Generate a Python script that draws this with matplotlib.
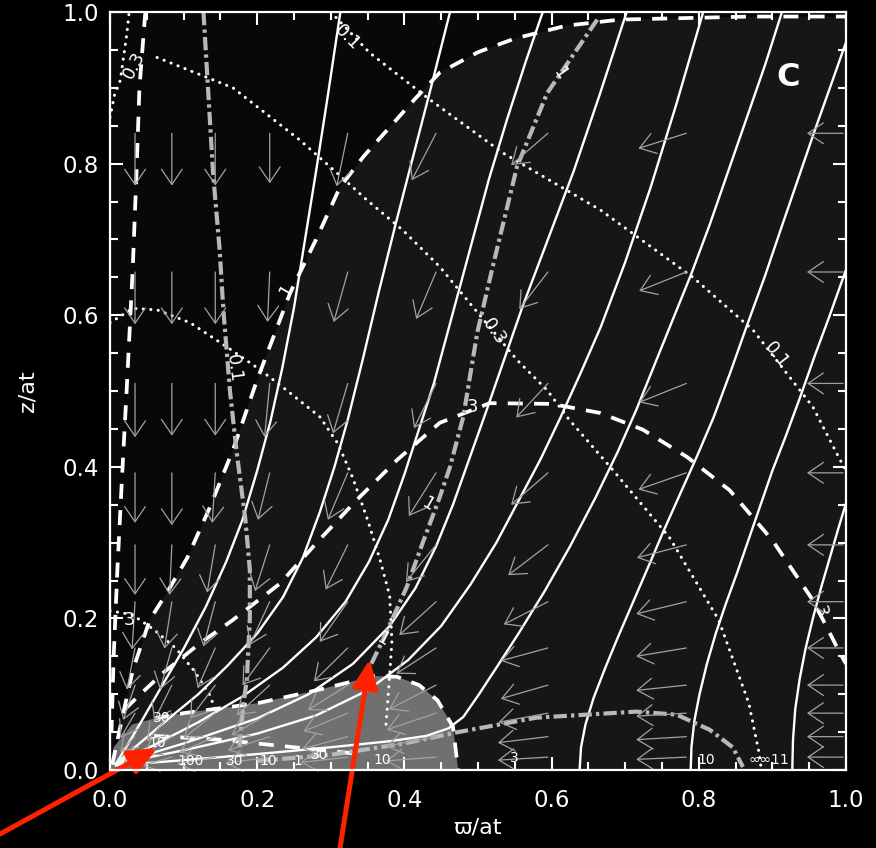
import matplotlib
matplotlib.use('Agg')
import matplotlib.pyplot as plt
from matplotlib.ticker import MultipleLocator, FormatStrFormatter

# Solid field lines, (x, y) pairs
L1 = [(0.927, 0.0), (0.928, 0.04), (0.931, 0.08), (0.937, 0.12), (0.945, 0.16), (0.955, 0.2), (0.966, 0.24),
      (0.978, 0.28), (0.99, 0.32), (1.0, 0.352)]
L2 = [(0.789, 0.0), (0.79, 0.03), (0.794, 0.065), (0.801, 0.1), (0.811, 0.14), (0.823, 0.18), (0.837, 0.22),
      (0.852, 0.26), (0.868, 0.305), (0.884, 0.35), (0.9, 0.395), (0.918, 0.44), (0.937, 0.49), (0.957, 0.545),
      (0.978, 0.6), (1.0, 0.66)]
L3 = [(0.638, 0.0), (0.64, 0.03), (0.646, 0.06), (0.657, 0.095), (0.673, 0.135), (0.69, 0.175), (0.71, 0.22),
      (0.73, 0.265), (0.752, 0.315), (0.775, 0.365), (0.798, 0.415), (0.82, 0.465), (0.843, 0.525), (0.866, 0.588),
      (0.89, 0.652), (0.912, 0.715), (0.935, 0.78), (0.958, 0.845), (0.98, 0.905), (1.0, 0.96)]
L4 = [(0.008, 0.006), (0.1, 0.013), (0.2, 0.021), (0.3, 0.03), (0.38, 0.038), (0.43, 0.045), (0.46, 0.055),
      (0.48, 0.07), (0.5, 0.098), (0.525, 0.135), (0.555, 0.18), (0.59, 0.235), (0.625, 0.295), (0.66, 0.36),
      (0.69, 0.42), (0.715, 0.475), (0.74, 0.535), (0.765, 0.595), (0.79, 0.655), (0.815, 0.72), (0.84, 0.79),
      (0.865, 0.86), (0.89, 0.93), (0.913, 1.0)]
L5 = [(0.008, 0.008), (0.1, 0.026), (0.2, 0.048), (0.28, 0.072), (0.35, 0.105), (0.405, 0.145), (0.45, 0.19),
      (0.49, 0.245), (0.525, 0.3), (0.555, 0.355), (0.585, 0.41), (0.612, 0.465), (0.64, 0.525), (0.667, 0.585),
      (0.7, 0.67), (0.735, 0.77), (0.77, 0.88), (0.806, 1.0)]
L6 = [(0.008, 0.008), (0.1, 0.035), (0.2, 0.068), (0.27, 0.1), (0.33, 0.14), (0.38, 0.19), (0.415, 0.24),
      (0.443, 0.295), (0.466, 0.35), (0.488, 0.41), (0.51, 0.47), (0.535, 0.54), (0.56, 0.61), (0.595, 0.7),
      (0.63, 0.79), (0.665, 0.89), (0.702, 1.0)]
L7 = [(0.008, 0.008), (0.06, 0.033), (0.12, 0.063), (0.18, 0.097), (0.235, 0.135), (0.28, 0.175), (0.32, 0.222),
      (0.352, 0.275), (0.378, 0.33), (0.4, 0.39), (0.42, 0.45), (0.44, 0.51), (0.465, 0.6), (0.49, 0.69),
      (0.515, 0.78), (0.54, 0.86), (0.565, 0.935), (0.588, 1.0)]
L8 = [(0.008, 0.008), (0.04, 0.035), (0.08, 0.068), (0.12, 0.1), (0.16, 0.138), (0.2, 0.18), (0.235, 0.228),
      (0.262, 0.28), (0.285, 0.34), (0.305, 0.4), (0.323, 0.462), (0.343, 0.54), (0.365, 0.63), (0.388, 0.72),
      (0.412, 0.81), (0.436, 0.9), (0.462, 1.0)]
L9 = [(0.008, 0.008), (0.025, 0.035), (0.045, 0.068), (0.07, 0.11), (0.1, 0.16), (0.13, 0.215), (0.158, 0.275),
      (0.18, 0.33), (0.2, 0.395), (0.218, 0.46), (0.234, 0.53), (0.25, 0.61), (0.265, 0.7), (0.28, 0.79),
      (0.296, 0.89), (0.313, 1.0)]
field_lines = [L1, L2, L3, L4, L5, L6, L7, L8, L9]

# thick dashed contours
D0 = [(0.048, 1.0), (0.04, 0.9), (0.036, 0.788), (0.031, 0.664), (0.023, 0.508), (0.016, 0.38), (0.01, 0.264),
      (0.005, 0.15), (0.002, 0.05)]
D1 = [(0.003, 0.007), (0.014, 0.057), (0.031, 0.132), (0.054, 0.198), (0.078, 0.235), (0.105, 0.28),
      (0.135, 0.345), (0.167, 0.422), (0.2, 0.515), (0.245, 0.63), (0.28, 0.7), (0.3125, 0.769), (0.345, 0.81),
      (0.38, 0.848), (0.415, 0.886), (0.448, 0.92), (0.5, 0.947), (0.55, 0.965), (0.62, 0.982), (0.693, 0.99),
      (0.87, 0.994), (1.0, 0.994)]
D3 = [(0.02, 0.08), (0.037, 0.096), (0.072, 0.128), (0.122, 0.167), (0.167, 0.198), (0.231, 0.246), (0.281, 0.30),
      (0.335, 0.356), (0.39, 0.409), (0.448, 0.458), (0.516, 0.484), (0.60, 0.483), (0.666, 0.471), (0.724, 0.449),
      (0.784, 0.413), (0.842, 0.369), (0.9, 0.303), (0.955, 0.224), (0.992, 0.154), (1.0, 0.14)]
D_disk = [(0.06, 0.045), (0.15, 0.04), (0.25, 0.03), (0.33, 0.022)]

# grey region (pseudodisk) outline
disk_x = [0.0, 0.005, 0.03, 0.06, 0.1, 0.2, 0.28, 0.326, 0.357, 0.39, 0.42, 0.445, 0.466, 0.473]
disk_y = [0.0, 0.03, 0.06, 0.068, 0.075, 0.088, 0.105, 0.116, 0.124, 0.123, 0.112, 0.092, 0.057, 0.0]

# dotted contours
DT0 = [(0.0, 0.861), (0.006, 0.89), (0.014, 0.91), (0.023, 0.972), (0.026, 1.0)]
DT1 = [(0.30, 1.0), (0.353, 0.946), (0.435, 0.884), (0.534, 0.814), (0.666, 0.739), (0.792, 0.65), (0.874, 0.58),
       (0.955, 0.479), (0.992, 0.409), (1.0, 0.395)]
DT2 = [(0.064, 0.94), (0.167, 0.9), (0.258, 0.831), (0.308, 0.788), (0.349, 0.752), (0.398, 0.712), (0.448, 0.664),
       (0.493, 0.611), (0.553, 0.541), (0.594, 0.501), (0.624, 0.462), (0.683, 0.396), (0.76, 0.307),
       (0.827, 0.198), (0.868, 0.088), (0.882, 0.022), (0.885, 0.0)]
DT3 = [(0.0, 0.59), (0.031, 0.609), (0.064, 0.607), (0.109, 0.59), (0.159, 0.558), (0.204, 0.528), (0.24, 0.501),
       (0.285, 0.466), (0.31, 0.43), (0.33, 0.385), (0.35, 0.33), (0.367, 0.277), (0.38, 0.23), (0.383, 0.17),
       (0.38, 0.125), (0.375, 0.06)]
DT4 = [(0.0, 0.21), (0.03, 0.205), (0.06, 0.185), (0.09, 0.16), (0.115, 0.13), (0.135, 0.1), (0.145, 0.075)]
dotted_lines = [DT0, DT1, DT2, DT3, DT4]

# dash-dot contours
DD1 = [(0.127, 1.0), (0.14, 0.788), (0.149, 0.686), (0.154, 0.607), (0.163, 0.5), (0.172, 0.42), (0.184, 0.33),
       (0.19, 0.264), (0.19, 0.2), (0.186, 0.12), (0.181, 0.085), (0.176, 0.03)]
DD2 = [(0.662, 0.99), (0.594, 0.893), (0.553, 0.796), (0.52, 0.664), (0.499, 0.577), (0.48, 0.466), (0.462, 0.4),
       (0.448, 0.36), (0.425, 0.3), (0.403, 0.241), (0.371, 0.172), (0.35, 0.13)]
DD3 = [(0.2, 0.012), (0.3, 0.02), (0.4, 0.035), (0.473, 0.05), (0.579, 0.069), (0.715, 0.077), (0.77, 0.073),
       (0.815, 0.053), (0.846, 0.03), (0.86, 0.004)]
dashdot_lines = [DD1, DD2, DD3]

# velocity arrows: grid of tails and components per row (data units)
arrow_x = [0.034, 0.084, 0.143, 0.217, 0.323, 0.443, 0.595, 0.783, 0.996]
arrow_y = [0.84, 0.657, 0.51, 0.392, 0.297, 0.222, 0.161, 0.112, 0.075, 0.044, 0.017]
arrow_u = [
    [0, 0, 0, 0, -0.015, -0.033, -0.05, -0.065, -0.049],
    [0, 0, 0, -0.003, -0.019, -0.027, -0.039, -0.064, -0.049],
    [0, 0, 0, -0.007, -0.02, -0.03, -0.043, -0.064, -0.049],
    [0, 0, -0.004, -0.016, -0.027, -0.037, -0.05, -0.065, -0.049],
    [0, -0.003, -0.011, -0.02, -0.03, -0.041, -0.054, -0.067, -0.049],
    [-0.004, -0.01, -0.016, -0.027, -0.038, -0.05, -0.06, -0.068, -0.049],
    [-0.011, -0.016, -0.024, -0.037, -0.046, -0.054, -0.064, -0.068, -0.049],
    [-0.016, -0.024, -0.034, -0.045, -0.054, -0.064, -0.064, -0.068, -0.049],
    [-0.02, -0.034, -0.043, -0.052, -0.06, -0.067, -0.067, -0.068, -0.049],
    [-0.02, -0.038, -0.049, -0.057, -0.062, -0.068, -0.068, -0.068, -0.049],
    [-0.016, -0.041, -0.052, -0.06, -0.064, -0.068, -0.068, -0.068, -0.049],
]
arrow_v = [
    [-0.069, -0.069, -0.069, -0.066, -0.07, -0.062, -0.042, -0.02, 0],
    [-0.069, -0.069, -0.069, -0.066, -0.066, -0.062, -0.049, -0.025, 0],
    [-0.071, -0.069, -0.069, -0.071, -0.066, -0.059, -0.045, -0.025, 0],
    [-0.066, -0.069, -0.066, -0.062, -0.062, -0.057, -0.042, -0.022, 0],
    [-0.066, -0.066, -0.063, -0.061, -0.059, -0.049, -0.04, -0.017, 0],
    [-0.063, -0.062, -0.059, -0.057, -0.053, -0.044, -0.03, -0.016, 0],
    [-0.055, -0.055, -0.053, -0.049, -0.044, -0.034, -0.017, -0.011, 0],
    [-0.046, -0.047, -0.044, -0.04, -0.033, -0.032, -0.018, -0.007, 0],
    [-0.033, -0.037, -0.033, -0.029, -0.024, -0.022, -0.012, -0.004, 0],
    [-0.02, -0.024, -0.021, -0.018, -0.016, -0.013, -0.008, -0.004, 0],
    [-0.008, -0.011, -0.009, -0.008, -0.007, -0.005, -0.004, -0.003, 0],
]

# contour labels: text, x, y, rotation
contour_labels = [
    ('0.1', 0.322, 0.966, -45), ('0.3', 0.033, 0.93, 62), ('0.1', 0.168, 0.53, -82),
    ('1', 0.24, 0.634, 60), ('1', 0.612, 0.918, -55), ('0.3', 0.522, 0.578, -55),
    ('0.1', 0.906, 0.548, -52), ('3', 0.493, 0.479, 0), ('3', 0.965, 0.21, -75),
    ('3', 0.027, 0.198, 0), ('1', 0.371, 0.172, -30), ('1', 0.432, 0.35, -30),
]
bottom_labels = [
    ('30', 0.07, 0.068), ('10', 0.064, 0.036), ('100', 0.11, 0.012), ('30', 0.17, 0.012), ('10', 0.215, 0.012),
    ('1', 0.255, 0.012), ('30', 0.285, 0.02), ('10', 0.37, 0.013), ('3', 0.55, 0.016), ('10', 0.81, 0.013),
    ('∞∞11', 0.895, 0.013),
]

# red pointer arrows: tip in data units, tail in figure pixels
red_tips = [(0.064, 0.029), (0.353, 0.146)]
red_tails = [(0, 14), (340, 0)]


def xy(points):
    return [p[0] for p in points], [p[1] for p in points]


fig = plt.figure(figsize=(8.76, 8.48), dpi=100, facecolor='black')
ax = fig.add_axes([110 / 876, 78 / 848, 736 / 876, 758 / 848])
ax.set_facecolor('#161616')
ax.set_xlim(0, 1)
ax.set_ylim(0, 1)

# darker zone left of the big dashed contour
dx_, dy_ = xy(D1)
ax.fill(dx_ + [1.0, 0.0], dy_ + [1.0, 1.0], color='#080808', lw=0, zorder=0.5)
# grey disk
ax.fill(disk_x, disk_y, color='#707070', lw=0, zorder=1)

for line in field_lines:
    xs, ys = xy(line)
    ax.plot(xs, ys, color='white', lw=1.7, zorder=3, solid_joinstyle='round')

for line in [D0, D1, D3, D_disk]:
    xs, ys = xy(line)
    ax.plot(xs, ys, color='white', lw=2.7, dashes=(4, 3), zorder=3)
ax.plot(disk_x[3:], disk_y[3:], color='white', lw=2.7, dashes=(4, 3), zorder=3)

for line in dotted_lines:
    xs, ys = xy(line)
    ax.plot(xs, ys, color='white', lw=2.2, dashes=(0.05, 2.4), dash_capstyle='round', zorder=3)

for line in dashdot_lines:
    xs, ys = xy(line)
    ax.plot(xs, ys, color='#b8b8b8', lw=3.0, dashes=(3.2, 1.0, 0.8, 1.0), zorder=3)

for i, y0 in enumerate(arrow_y):
    for j, x0 in enumerate(arrow_x):
        ax.annotate('', xy=(x0 + arrow_u[i][j], y0 + arrow_v[i][j]), xytext=(x0, y0),
                    arrowprops=dict(arrowstyle='->,head_length=1.1,head_width=0.75', color='#a2a2a2',
                                    lw=0.9, shrinkA=0, shrinkB=0), zorder=4)

for txt, x0, y0, rot in contour_labels:
    ax.text(x0, y0, txt, color='white', fontsize=13, rotation=rot, ha='center', va='center', zorder=5)
for txt, x0, y0 in bottom_labels:
    ax.text(x0, y0, txt, color='white', fontsize=10, ha='center', va='center', zorder=5)

ax.text(0.921, 0.913, 'C', color='white', fontsize=23, fontweight='bold', ha='center', va='center', zorder=5)

for tip, tail in zip(red_tips, red_tails):
    ax.annotate('', xy=tip, xycoords='data', xytext=tail, textcoords='figure pixels',
                arrowprops=dict(arrowstyle='-|>,head_length=1.7,head_width=0.75', color='#ff2200',
                                lw=3.6, shrinkA=0, shrinkB=0), annotation_clip=False, zorder=6)

for sp in ax.spines.values():
    sp.set_color('white')
    sp.set_linewidth(1.6)
    sp.set_zorder(7)

ax.xaxis.set_major_locator(MultipleLocator(0.2))
ax.yaxis.set_major_locator(MultipleLocator(0.2))
ax.xaxis.set_minor_locator(MultipleLocator(0.05))
ax.yaxis.set_minor_locator(MultipleLocator(0.05))
ax.xaxis.set_major_formatter(FormatStrFormatter('%.1f'))
ax.yaxis.set_major_formatter(FormatStrFormatter('%.1f'))
ax.tick_params(which='both', direction='in', top=True, right=True, color='white', width=1.5,
               labelcolor='white', labelsize=16.5)
ax.tick_params(which='major', length=9.5)
ax.tick_params(which='minor', length=6)
ax.tick_params(axis='x', pad=14)
ax.tick_params(axis='y', pad=8)

ax.set_xlabel('ϖ/at', color='white', fontsize=16)
ax.set_ylabel('z/at', color='white', fontsize=16)
ax.xaxis.set_label_coords(0.5, -0.063)
ax.yaxis.set_label_coords(-0.099, 0.5)

fig.savefig('out.png', dpi=100, facecolor='black')
